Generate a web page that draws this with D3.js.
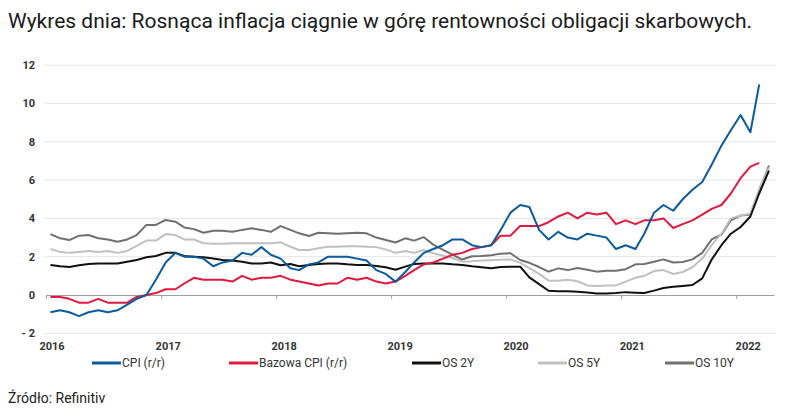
<!DOCTYPE html>
<html>
<head>
<meta charset="utf-8">
<script src="https://cdn.jsdelivr.net/npm/d3@7"></script>
<style>
  body { margin: 0; background: #fff; }
  text { font-family: Roboto, "Liberation Sans", sans-serif; }
</style>
</head>
<body>
<div id="chart-area"></div>
<script>
// monthly data, first point = Jan 2016
const startYear = 2016
const years = ['2016', '2017', '2018', '2019', '2020', '2021', '2022']
const yTicks = [-2, 0, 2, 4, 6, 8, 10, 12]

const cpi = [
  -0.9, -0.8, -0.9, -1.1, -0.9, -0.8, -0.9, -0.8, -0.5, -0.2, 0.0, 0.8,
  1.7, 2.2, 2.0, 2.0, 1.9, 1.5, 1.7, 1.8, 2.2, 2.1, 2.5, 2.1,
  1.9, 1.4, 1.3, 1.6, 1.7, 2.0, 2.0, 2.0, 1.9, 1.8, 1.3, 1.1,
  0.7, 1.2, 1.7, 2.2, 2.4, 2.6, 2.9, 2.9, 2.6, 2.5, 2.6, 3.4,
  4.3, 4.7, 4.6, 3.4, 2.9, 3.3, 3.0, 2.9, 3.2, 3.1, 3.0, 2.4,
  2.6, 2.4, 3.2, 4.3, 4.7, 4.4, 5.0, 5.5, 5.9, 6.8, 7.8, 8.6,
  9.4, 8.5, 11.0
]
const coreCpi = [
  -0.1, -0.1, -0.2, -0.4, -0.4, -0.2, -0.4, -0.4, -0.4, -0.1, 0.0, 0.1,
  0.3, 0.3, 0.6, 0.9, 0.8, 0.8, 0.8, 0.7, 1.0, 0.8, 0.9, 0.9,
  1.0, 0.8, 0.7, 0.6, 0.5, 0.6, 0.6, 0.9, 0.8, 0.9, 0.7, 0.6,
  0.7, 1.0, 1.3, 1.6, 1.7, 1.9, 2.1, 2.2, 2.4, 2.5, 2.6, 3.1,
  3.1, 3.6, 3.6, 3.6, 3.8, 4.1, 4.3, 4.0, 4.3, 4.2, 4.3, 3.7,
  3.9, 3.7, 3.9, 3.9, 4.0, 3.5, 3.7, 3.9, 4.2, 4.5, 4.7, 5.3,
  6.1, 6.7, 6.9
]
const os2y = [
  1.57, 1.5, 1.46, 1.55, 1.62, 1.65, 1.65, 1.65, 1.74, 1.83, 1.97, 2.04,
  2.2, 2.2, 2.04, 2.0, 1.97, 1.9, 1.83, 1.8, 1.74, 1.65, 1.65, 1.7,
  1.55, 1.62, 1.5, 1.57, 1.62, 1.65, 1.65, 1.6, 1.57, 1.57, 1.52, 1.45,
  1.32, 1.48, 1.62, 1.65, 1.65, 1.65, 1.6, 1.57, 1.5, 1.45, 1.4, 1.46,
  1.48, 1.48, 0.92, 0.57, 0.22, 0.2, 0.2, 0.17, 0.13, 0.08, 0.08, 0.1,
  0.15, 0.12, 0.1, 0.23, 0.37, 0.43, 0.47, 0.52, 0.87, 1.85, 2.6, 3.2,
  3.55, 4.1, 5.3, 6.5
]
const os5y = [
  2.4, 2.25, 2.2, 2.25, 2.3, 2.25, 2.3, 2.2, 2.3, 2.57, 2.84, 2.84,
  3.18, 3.13, 2.9, 2.9, 2.7, 2.67, 2.67, 2.7, 2.7, 2.7, 2.7, 2.7,
  2.75, 2.52, 2.35, 2.35, 2.44, 2.52, 2.52, 2.55, 2.55, 2.52, 2.5, 2.38,
  2.2, 2.3, 2.2, 2.35, 2.18, 2.05, 1.93, 1.74, 1.76, 1.8, 1.82, 1.84,
  1.85, 1.68, 1.4, 1.1, 0.75, 0.75, 0.8, 0.72, 0.5, 0.47, 0.5, 0.5,
  0.7, 0.9, 1.0, 1.25, 1.3, 1.1, 1.2, 1.45, 1.9, 2.6, 3.2, 4.0,
  4.15, 4.25, 5.55, 6.65
]
const os10y = [
  3.18, 2.96, 2.87, 3.1, 3.13, 2.96, 2.9, 2.78, 2.9, 3.13, 3.66, 3.66,
  3.92, 3.83, 3.53, 3.44, 3.25, 3.35, 3.35, 3.3, 3.4, 3.48, 3.4, 3.3,
  3.6, 3.4, 3.22, 3.08, 3.25, 3.22, 3.2, 3.22, 3.25, 3.22, 3.0, 2.87,
  2.74, 2.96, 2.84, 3.02, 2.63, 2.36, 2.11, 1.85, 2.02, 2.04, 2.08, 2.16,
  2.18, 1.83, 1.68, 1.46, 1.22, 1.39, 1.3, 1.41, 1.32, 1.22, 1.27, 1.27,
  1.35, 1.6, 1.62, 1.74, 1.86, 1.7, 1.72, 1.86, 2.2, 2.9, 3.15, 3.9,
  4.15, 4.2, 5.45, 6.75
]

const series = [
  { name: 'OS 10Y', values: os10y, color: '#707070' },
  { name: 'OS 5Y', values: os5y, color: '#c0c0c0' },
  { name: 'OS 2Y', values: os2y, color: '#111111' },
  { name: 'Bazowa CPI (r/r)', values: coreCpi, color: '#e2183c' },
  { name: 'CPI (r/r)', values: cpi, color: '#0b5c9e' }
]
const legendOrder = ['CPI (r/r)', 'Bazowa CPI (r/r)', 'OS 2Y', 'OS 5Y', 'OS 10Y']
const legendX = [92, 229, 412, 538, 665]

const width = 800
const height = 416

const svg = d3.select('#chart-area')
  .append('svg')
    .attr('width', width)
    .attr('height', height)

svg.append('text')
  .attr('x', 8)
  .attr('y', 28)
  .attr('font-size', 20)
  .attr('fill', '#1a1a1a')
  .attr('textLength', 744)
  .attr('lengthAdjust', 'spacingAndGlyphs')
  .text('Wykres dnia: Rosnąca inflacja ciągnie w górę rentowności obligacji skarbowych.')

const scaleX = d3.scaleTime()
  .domain([new Date(startYear, 0, 1), new Date(2022, 4, 1)])
  .range([46, 774])

const scaleY = d3.scaleLinear()
  .domain([-2, 12])
  .range([333.3, 65.2])

const dateOf = i => new Date(startYear, i, 15)

// gridlines
svg.append('g')
  .selectAll('line')
  .data(yTicks.filter(d => d !== 0))
  .enter()
  .append('line')
    .attr('x1', 44)
    .attr('x2', 776)
    .attr('y1', d => scaleY(d))
    .attr('y2', d => scaleY(d))
    .attr('stroke', '#e6e6e6')
    .attr('stroke-width', 1)

// y labels
svg.append('g')
  .selectAll('text')
  .data(yTicks)
  .enter()
  .append('text')
    .attr('x', 35)
    .attr('y', d => scaleY(d))
    .attr('dy', '0.35em')
    .attr('text-anchor', 'end')
    .attr('font-size', 11)
    .attr('font-weight', 'bold')
    .attr('fill', '#333')
    .text(d => d < 0 ? '- ' + Math.abs(d) : d)

// zero axis with year ticks
const xAxisCall = d3.axisBottom(scaleX)
  .ticks(d3.timeYear.every(1))
  .tickSize(4)
  .tickSizeOuter(0)
  .tickFormat('')
const xAxis = svg.append('g')
  .attr('transform', `translate(0, ${scaleY(0)})`)
  .call(xAxisCall)
xAxis.select('.domain').attr('stroke', '#a0a0a0').attr('stroke-width', 1.2)
xAxis.selectAll('.tick line').attr('stroke', '#a0a0a0')

svg.append('g')
  .selectAll('text')
  .data(years)
  .enter()
  .append('text')
    .attr('x', d => scaleX(new Date(+d, 0, 1)) + 6 + (+d - startYear) * 1)
    .attr('y', 350)
    .attr('text-anchor', 'middle')
    .attr('font-size', 11)
    .attr('font-weight', 'bold')
    .attr('fill', '#333')
    .text(d => d)

const line = d3.line()
  .x((d, i) => scaleX(dateOf(i)))
  .y(d => scaleY(d))

svg.append('g')
  .selectAll('path')
  .data(series)
  .enter()
  .append('path')
    .attr('d', d => line(d.values))
    .attr('fill', 'none')
    .attr('stroke', d => d.color)
    .attr('stroke-width', 2)
    .attr('stroke-linejoin', 'round')

// legend
const legend = svg.append('g')
  .selectAll('g')
  .data(legendOrder)
  .enter()
  .append('g')
    .attr('transform', (d, i) => `translate(${legendX[i]}, 363)`)

legend.append('line')
  .attr('x1', 0)
  .attr('x2', 29)
  .attr('stroke', d => series.find(s => s.name === d).color)
  .attr('stroke-width', 3)

legend.append('text')
  .attr('x', 30)
  .attr('dy', '0.35em')
  .attr('font-size', 12)
  .attr('fill', '#333')
  .text(d => d)

svg.append('text')
  .attr('x', 8)
  .attr('y', 403)
  .attr('font-size', 14)
  .attr('fill', '#222')
  .text('Źródło: Refinitiv')
</script>
</body>
</html>
